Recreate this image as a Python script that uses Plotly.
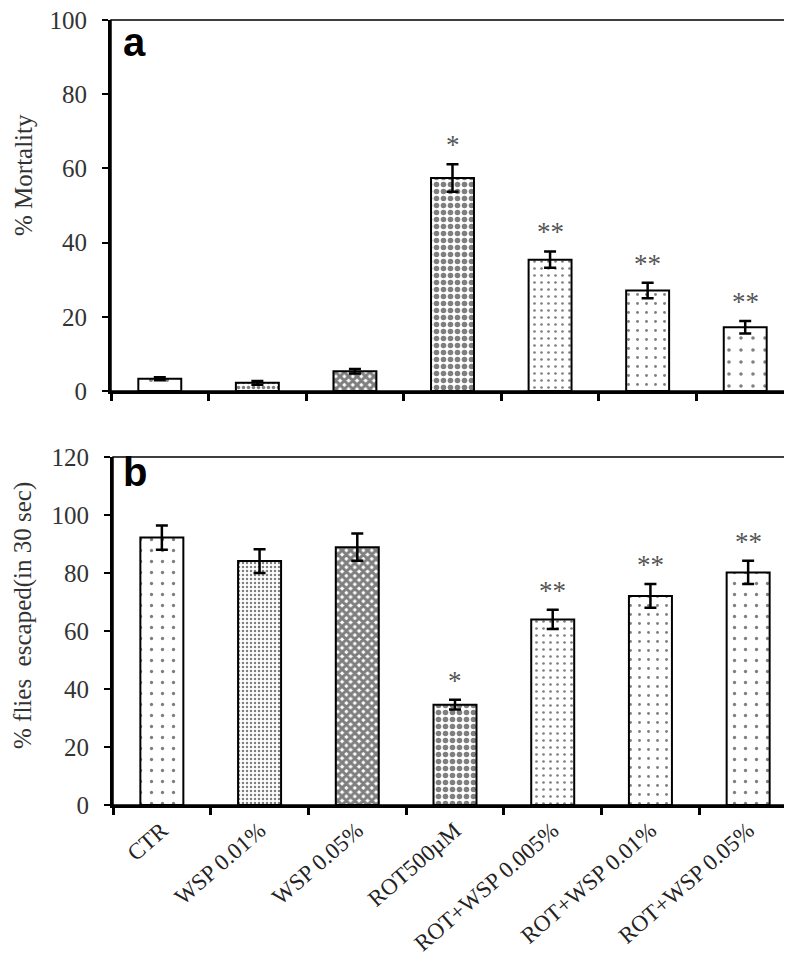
import plotly.graph_objects as go

# ---------------- data ----------------
categories = ["CTR", "WSP 0.01%", "WSP 0.05%", "ROT500µM",
              "ROT+WSP 0.005%", "ROT+WSP 0.01%", "ROT+WSP 0.05%"]
mortality = [3.3, 2.2, 5.3, 57.4, 35.4, 27.1, 17.2]
mortality_err = [0.4, 0.5, 0.6, 3.7, 2.2, 2.1, 1.7]
mortality_sig = ["", "", "", "*", "**", "**", "**"]
escaped = [92.2, 84.1, 88.9, 34.6, 64.0, 72.1, 80.2]
escaped_err = [4.2, 4.1, 4.7, 1.7, 3.3, 4.1, 4.0]
escaped_sig = ["", "", "", "*", "**", "**", "**"]

# ---------------- styles ----------------
pat_shape = [".", ".", "x", ".", ".", ".", "."]
pat_size = [11, 4, 6, 7, 7, 9, 11]
pat_solid = [0.07, 0.3, 0.75, 0.5, 0.12, 0.08, 0.07]
pat_size_a = [16, 5, 6, 7, 7, 9, 12]
pat_solid_a = [0.05, 0.4, 0.75, 0.5, 0.12, 0.08, 0.07]

SERIF = "Liberation Serif"
W, H = 792, 960


def px_x(p):
    return p / W


def px_y(p):
    return (H - p) / H


fig = go.Figure()

fig.add_trace(go.Bar(
    x=categories, y=mortality, width=0.44,
    error_y=dict(type="data", array=mortality_err, color="black", thickness=2.5, width=6),
    marker=dict(color="white", line=dict(color="black", width=2),
                pattern=dict(shape=pat_shape, size=pat_size_a, solidity=pat_solid_a,
                             fgcolor="black", bgcolor="white", fillmode="overlay")),
    xaxis="x", yaxis="y", showlegend=False, hoverinfo="skip"))

fig.add_trace(go.Bar(
    x=categories, y=escaped, width=0.44,
    error_y=dict(type="data", array=escaped_err, color="black", thickness=2.5, width=6),
    marker=dict(color="white", line=dict(color="black", width=2),
                pattern=dict(shape=pat_shape, size=pat_size, solidity=pat_solid,
                             fgcolor="black", bgcolor="white", fillmode="overlay")),
    xaxis="x2", yaxis="y2", showlegend=False, hoverinfo="skip"))

xcommon = dict(type="category", range=[-0.5, 6.5], showline=True, linecolor="black",
               linewidth=3, ticks="outside", tickson="boundaries", ticklen=7,
               tickwidth=3, tickcolor="black", showgrid=False, zeroline=False,
               automargin=False, fixedrange=True)
ycommon = dict(showline=True, linecolor="black", linewidth=3, ticks="outside",
               ticklen=6, tickwidth=2, tickcolor="black", showgrid=False,
               zeroline=False, dtick=20, automargin=False,
               tickfont=dict(family=SERIF, size=25, color="#333"),
               ticklabelstandoff=10, ticklabeloverflow="allow")

fig.update_layout(
    width=W, height=H, margin=dict(l=0, r=0, t=0, b=0),
    paper_bgcolor="white", plot_bgcolor="white",
    xaxis=dict(domain=[px_x(103), px_x(786)], anchor="y", showticklabels=False, **xcommon),
    yaxis=dict(domain=[px_y(383), px_y(12)], anchor="x", range=[0, 100], **ycommon),
    xaxis2=dict(domain=[px_x(105), px_x(789)], anchor="y2", showticklabels=True,
                tickangle=-41, tickfont=dict(family=SERIF, size=23, color="#222"),
                **xcommon),
    yaxis2=dict(domain=[px_y(797), px_y(449)], anchor="x2", range=[0, 120], **ycommon),
)

# thin frame (top/right)
for xr, yr in (("x domain", "y domain"), ("x2 domain", "y2 domain")):
    fig.add_shape(type="rect", xref=xr, yref=yr, x0=0, x1=1, y0=0, y1=1,
                  line=dict(color="black", width=1.5), layer="above")

ann = []
# significance stars
for cat, v, e, s in zip(categories, mortality, mortality_err, mortality_sig):
    if s:
        ann.append(dict(x=cat, y=v + e, xref="x", yref="y", text=s, showarrow=False,
                        yanchor="bottom", yshift=2,
                        font=dict(family=SERIF, size=27, color="#555")))
for cat, v, e, s in zip(categories, escaped, escaped_err, escaped_sig):
    if s:
        ann.append(dict(x=cat, y=v + e, xref="x2", yref="y2", text=s, showarrow=False,
                        yanchor="bottom", yshift=2,
                        font=dict(family=SERIF, size=27, color="#555")))
# y titles
ann.append(dict(x=px_x(15), y=px_y(167), xref="paper", yref="paper", text="% Mortality",
                textangle=-90, showarrow=False, xanchor="center", yanchor="middle",
                font=dict(family=SERIF, size=25, color="#333")))
ann.append(dict(x=px_x(15), y=px_y(608), xref="paper", yref="paper",
                text="% flies\u00a0 escaped(in 30 sec)",
                textangle=-90, showarrow=False, xanchor="center", yanchor="middle",
                font=dict(family=SERIF, size=25, color="#333")))
# panel letters
ann.append(dict(x=px_x(113), y=px_y(34), xref="paper", yref="paper", text="<b>a</b>",
                showarrow=False, xanchor="left", yanchor="middle",
                font=dict(family="Liberation Sans", size=40, color="black")))
ann.append(dict(x=px_x(113), y=px_y(464), xref="paper", yref="paper", text="<b>b</b>",
                showarrow=False, xanchor="left", yanchor="middle",
                font=dict(family="Liberation Sans", size=40, color="black")))
fig.update_layout(annotations=ann)

fig.write_html("out.html")
